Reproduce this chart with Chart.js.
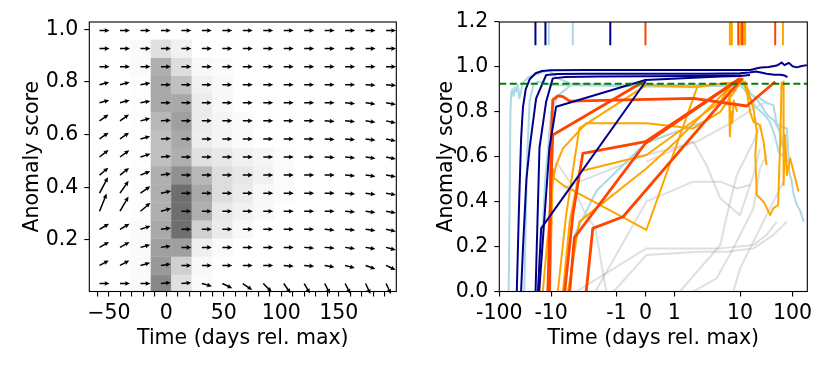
<!DOCTYPE html>
<html><head><meta charset="utf-8">
<script src="https://cdn.jsdelivr.net/npm/chart.js@4/dist/chart.umd.min.js"></script>
<style>
html,body{margin:0;padding:0;background:#fff;}
#wrap{position:relative;width:830px;height:369px;overflow:hidden;}
canvas{position:absolute;top:0;}
#c1{left:0}
#c2{left:415px}
</style></head><body>
<div id="wrap"><canvas id="c1" width="415" height="369"></canvas><canvas id="c2" width="415" height="369"></canvas></div>
<script>
// ---------------- LEFT PANEL DATA ----------------
const histXEdges = [-67,-49.2,-31.4,-13.6,4.2,22,39.8,57.6,75.4,93.2,111,128.8,146.6,164.4,182.2,200];
const histYEdges = [0,0.0687,0.1373,0.206,0.2747,0.3433,0.412,0.4807,0.5493,0.618,0.6867,0.7553,0.824,0.8927,0.9613,1.03];
// row 0 = bottom bin; values are colormap (Greys) inputs
const histDensity = [
 [0,0,0.04,0.55,0.21,0.04,0,0,0,0,0,0,0,0,0],
 [0,0,0.04,0.49,0.29,0.06,0,0,0,0,0,0,0,0,0],
 [0,0,0.04,0.47,0.47,0.13,0.04,0,0,0,0,0,0,0,0],
 [0,0,0.04,0.44,0.64,0.29,0.15,0.06,0,0,0,0,0,0,0],
 [0,0,0.02,0.42,0.64,0.42,0.17,0.12,0.06,0,0,0,0,0,0],
 [0,0,0.02,0.42,0.64,0.44,0.23,0.15,0.06,0.03,0,0,0,0,0],
 [0,0,0.02,0.42,0.52,0.39,0.23,0.17,0.12,0.03,0,0,0,0,0],
 [0,0,0.02,0.36,0.42,0.21,0.17,0.12,0.08,0.03,0,0,0,0,0],
 [0,0,0.02,0.36,0.44,0.14,0.08,0.04,0,0,0,0,0,0,0],
 [0,0,0.02,0.39,0.47,0.15,0.08,0.04,0,0,0,0,0,0,0],
 [0,0,0.02,0.44,0.44,0.15,0.06,0,0,0,0,0,0,0,0],
 [0,0,0.02,0.44,0.36,0.12,0.06,0,0,0,0,0,0,0,0],
 [0,0,0.04,0.42,0.23,0.06,0.03,0,0,0,0,0,0,0,0],
 [0,0,0.04,0.21,0.12,0,0,0,0,0,0,0,0,0,0],
 [0,0,0,0,0,0,0,0,0,0,0,0,0,0,0]
];
// quiver: direction (degrees, screen) and relative magnitude per bin, row 0 = bottom
const arrowAngle = [
 [0,0,0,5,5,-15,-25,-35,-45,-55,-60,-62,-63,-65,-65],
 [28,28,15,8,0,0,0,0,0,-5,-5,-10,-15,-20,-25],
 [30,30,15,8,0,0,0,0,0,0,-5,-5,-8,-10,-15],
 [30,30,18,8,0,0,0,0,0,0,0,-5,-5,-8,-12],
 [68,60,40,15,0,0,0,0,0,0,0,0,-5,-8,-10],
 [62,55,35,12,0,0,0,0,0,0,0,0,-5,-8,-10],
 [40,38,22,8,0,0,0,0,0,0,0,0,-5,-8,-10],
 [38,36,18,5,0,0,0,0,0,0,0,-3,-5,-8,-12],
 [35,35,15,3,0,0,0,0,0,0,0,-3,-5,-8,-12],
 [35,35,15,3,0,0,0,0,0,0,0,-3,-5,-8,-12],
 [15,15,10,0,0,0,0,0,0,0,0,0,-5,-8,-10],
 [15,15,10,0,0,0,0,0,0,0,0,0,0,-3,-5],
 [0,0,0,0,0,0,0,0,0,0,0,0,0,0,0],
 [0,0,0,0,0,0,0,0,0,0,0,0,0,0,0],
 [0,0,0,0,0,0,0,0,0,0,0,0,0,0,0]
];
const arrowMag = [
 [1,1,1,1,1,1.05,1.1,1.15,1.2,1.2,1.15,1.15,1.15,1.15,1.15],
 [1.05,1.05,1,1,1,1,1,1,1,1,1,1,1,1.05,1.05],
 [1.1,1.1,1,1,1,1,1,1,1,1,1,1,1,1,1],
 [1.1,1.1,1.05,1,1,1,1,1,1,1,1,1,1,1,1],
 [1.9,1.7,1.3,1.05,1,1,1,1,1,1,1,1,1,1,1],
 [1.8,1.5,1.2,1.05,1,1,1,1,1,1,1,1,1,1,1],
 [1.15,1.15,1.05,1,1,1,1,1,1,1,1,1,1,1,1],
 [1.15,1.15,1.05,1,1,1,1,1,1,1,1,1,1,1,1],
 [1.1,1.1,1,1,1,1,1,1,1,1,1,1,1,1,1],
 [1.1,1.1,1,1,1,1,1,1,1,1,1,1,1,1,1],
 [1,1,1,1,1,1,1,1,1,1,1,1,1,1,1],
 [1,1,1,1,1,1,1,1,1,1,1,1,1,1,1],
 [1,1,1,1,1,1,1,1,1,1,1,1,1,1,1],
 [1,1,1,1,1,1,1,1,1,1,1,1,1,1,1],
 [1,1,1,1,1,1,1,1,1,1,1,1,1,1,1]
];
const leftXTicks = [-60,-50,-40,-30,-20,-10,0,10,20,30,40,50,60,70,80,90,100,110,120,130,140,150,160,170,180,190];
const leftXLabelled = [-50,0,50,100,150];
const leftYTicks = [0.2,0.4,0.6,0.8,1.0];

// ---------------- RIGHT PANEL DATA ----------------
const rightXTickDays = [-100,-10,-1,0,1,10,100];
const rightXTickLabels = ['-100','-10','-1','0','1','10','100'];
const rightYTicks = [0,0.2,0.4,0.6,0.8,1.0,1.2];
const threshold = 0.925;

const navyDays = [
 [-46,-42,-38,-35,-31,-26,-20,-15,-10,-3,0,3,10,15.5,18,21,25,35,50,58,62,70,85,100,120,150,188],
 [-38,-35,-30,-26,-19.5,-12.5,-8,-3,0,3,10,15,20,25,32,45,60,70,80],
 [-20,-16.8,-12.5,-9.45,-6,-2,0,2,6,10.5],
 [-17,-10.8,-8.4,0,5,10,15.5],
 [-18,-15.6,0]
];
const navyScores = [
 [0,0.35,0.68,0.82,0.9,0.945,0.972,0.982,0.985,0.986,0.986,0.986,0.986,0.986,0.99,0.994,0.997,1.0,1.006,1.015,1.02,1.008,1.018,1.003,0.998,1.004,1.008],
 [0,0.19,0.5,0.64,0.86,0.964,0.968,0.97,0.97,0.97,0.972,0.975,0.98,0.975,0.97,0.965,0.965,0.962,0.955],
 [0,0.64,0.845,0.949,0.955,0.957,0.958,0.96,0.962,0.962],
 [0,0.64,0.823,0.942,0.957,0.96,0.964],
 [0,0.281,0.934]
];
const lightblueDays = [
 [-66,-63,-61,-59,-56,-53,-50,-47,-44,-41,-35,-27,-15,-11,-9.5,-8,-5,-1,1,5,8,10,12,14,15.5,18,24,32,43,50,60,78,84,88,95,105,121,140,163],
 [-5.2,-4.4,-2,0,3,6,8.9,12,15.5,20,28,36,45,55,70,80],
 [-33,-29,-26,-22,-18,-10,0,5,10,13,16,20,25,30,35,45,55,60,65],
 [-17,-13,-10,-8,-4.7,-1,2,5,9,12]
];
const lightblueScores = [
 [0,0.45,0.8,0.88,0.9,0.87,0.91,0.89,0.92,0.86,0.93,0.955,0.975,0.985,0.97,0.95,0.925,0.92,0.92,0.92,0.925,0.93,0.925,0.9,0.88,0.87,0.86,0.84,0.83,0.745,0.735,0.726,0.6,0.52,0.5,0.43,0.385,0.36,0.311],
 [0,0.25,0.45,0.66,0.76,0.86,0.934,0.9,0.86,0.82,0.79,0.76,0.7,0.62,0.6,0.58],
 [0,0.6,0.85,0.92,0.935,0.92,0.915,0.915,0.92,0.915,0.88,0.86,0.83,0.8,0.78,0.76,0.72,0.69,0.64],
 [0,0.5,0.8,0.87,0.925,0.915,0.91,0.92,0.935,0.93]
];
const orangeredDays = [
 [-10.8,-10.1,-9.45,-7.9,-6.6,-5.2,1.95,13.4,46.7],
 [-11.6,-10.1,-9.45,0.03],
 [-6.2,-4.65,-3.27,0,10],
 [-5.2,-4.4,0,9.4],
 [-2.9,-2.3,-0.77,10.9]
];
const orangeredScores = [
 [0,0.637,0.853,0.871,0.868,0.848,0.86,0.826,0.934],
 [0,0.49,0.697,0.942],
 [0,0.34,0.615,0.667,0.949],
 [0,0.24,0.66,0.942],
 [0,0.281,0.333,0.949]
];
const orangeDays = [
 [-14.5,-9.45,-8.4,-6.6,-2.9,0.03,1.95,5,11.6],
 [-10.5,-9.45,-9,-6.6,0.03,2.25,6.8,7,7.3,7.6,8,9],
 [-7.9,-5.9,-3.7,0.03,1.95,12.5,18,20.8,19.5,20.8,28,37.5,43,53,58,62],
 [-6.6,-5.2,-3.7,0.03,5,7.9],
 [-5.5,-3.7,0.03,1.05,8.9,10.8,13.4,15.5,18,24,28,32],
 [60,67,67.5,72,78,90,130]
];
const orangeScores = [
 [0,0.49,0.563,0.637,0.749,0.749,0.726,0.8,0.95],
 [0,0.548,0.504,0.474,0.274,0.912,0.93,0.69,0.8,0.75,0.85,0.8],
 [0,0.34,0.726,0.919,0.912,0.934,0.815,0.712,0.608,0.43,0.4,0.34,0.37,0.385,0.667,0.934],
 [0,0.311,0.534,0.608,0.845,0.934],
 [0,0.311,0.548,0.667,0.942,0.949,0.89,0.8,0.756,0.741,0.667,0.563],
 [0.9,0.934,0.474,0.697,0.519,0.593,0.445]
];
const greyDays = [
 [-4.1,0.03,5,18,32,50],
 [0.03,1.95,3.1,5,10,18,24],
 [1.22,5,6.3,8.9,13.4,18,24],
 [1.95,4.4,7.9,10,18,24,32],
 [-1.1,0.03,2.46,6.3,18,43,78],
 [-2.1,0.03,1.95,5,8.9,15.5],
 [-8.4,-5.2,-2.9,-2.1,-1.43],
 [-6.6,0.03,2.2,7.9,18,32],
 [7.9,10,15.5,24,43,67]
];
const greyScores = [
 [0,0.192,0.192,0.207,0.252,0.311],
 [0.578,0.667,0.563,0.415,0.34,0.519,0.637],
 [0,0.207,0.34,0.519,0.608,0.667,0.741],
 [0,0.059,0.192,0.252,0.37,0.548,0.608],
 [0,0.162,0.177,0.177,0.192,0.252,0.311],
 [0,0.4,0.489,0.489,0.459,0.474],
 [0.578,0.489,0.34,0.281,0],
 [0.459,0.608,0.667,0.756,0.815,0.845],
 [0,0.103,0.192,0.281,0.4,0.489]
];
// rug: days of first threshold crossing
const rugNavy = [-20.1,-12.9,-1.24];
const rugLightblue = [-11.1,-4.66];
const rugOrangered = [0,9.4,10.9,46.7];
const rugOrange = [7.0,7.5,10.2,11.5,12.5,65.5];

// ---------------- helpers ----------------
// custom symmetric-log-like axis transform (days -> axis units)
function symT(d){
  if (d <= -10) return 51.7*(2-Math.log10(-d));
  if (d <= -1) return 51.7+65*(1-Math.log10(-d));
  if (d < 0) return 145.7 + d*29;
  if (d < 1) return 145.7 + d*28.6;
  if (d < 10) return 174.3 + 65.7*Math.log10(d);
  return 240 + 52.3*(Math.log10(d)-1);
}
function greysColor(t){
  const stops=[255,240,217,189,150,115,82,37,0];
  const p=Math.min(Math.max(t,0),1)*8; const i=Math.min(Math.floor(p),7); const f=p-i;
  const g=Math.round(stops[i]+(stops[i+1]-stops[i])*f);
  return 'rgb('+g+','+g+','+g+')';
}
const FONT = {family:'"DejaVu Sans"', size:20.5};
Chart.defaults.font.family = '"DejaVu Sans"';
Chart.defaults.color = '#000';

const spinePlugin = {
  id:'spines',
  afterDatasetsDraw(chart){
    const {ctx, chartArea:a} = chart;
    ctx.save(); ctx.strokeStyle='#000'; ctx.lineWidth=1.1;
    ctx.strokeRect(a.left, a.top, a.right-a.left, a.bottom-a.top);
    ctx.restore();
  }
};

const heatPlugin = {
  id:'heat',
  beforeDatasetsDraw(chart){
    const {ctx, chartArea:a, scales:{x,y}} = chart;
    ctx.save(); ctx.beginPath(); ctx.rect(a.left,a.top,a.right-a.left,a.bottom-a.top); ctx.clip();
    for (let r=0;r<histDensity.length;r++){
      for (let c=0;c<histDensity[r].length;c++){
        const t=histDensity[r][c]; if(t<=0) continue;
        const x0=x.getPixelForValue(histXEdges[c]), x1=x.getPixelForValue(histXEdges[c+1]);
        const y0=y.getPixelForValue(histYEdges[r+1]), y1=y.getPixelForValue(histYEdges[r]);
        ctx.fillStyle=greysColor(t);
        ctx.fillRect(x0,y0,x1-x0+0.3,y1-y0+0.3);
      }
    }
    ctx.restore();
  },
  afterDatasetsDraw(chart){
    const {ctx, scales:{x,y}} = chart;
    const base=10, sw=1.5, hw=4.6, hl=5, hal=4.4;
    ctx.save(); ctx.fillStyle='#000';
    for (let r=0;r<arrowAngle.length;r++){
      for (let c=0;c<arrowAngle[r].length;c++){
        const xc=x.getPixelForValue((histXEdges[c]+histXEdges[c+1])/2);
        const yc=y.getPixelForValue((histYEdges[r]+histYEdges[r+1])/2);
        const L=base*arrowMag[r][c];
        ctx.save(); ctx.translate(xc,yc); ctx.rotate(-arrowAngle[r][c]*Math.PI/180);
        ctx.beginPath();
        ctx.moveTo(0,-sw/2); ctx.lineTo(L-hal,-sw/2); ctx.lineTo(L-hl,-hw/2); ctx.lineTo(L,0);
        ctx.lineTo(L-hl,hw/2); ctx.lineTo(L-hal,sw/2); ctx.lineTo(0,sw/2); ctx.closePath();
        ctx.fill(); ctx.restore();
      }
    }
    ctx.restore();
  }
};

const tickGrid = {drawOnChartArea:false, drawTicks:true, tickLength:5, color:'#000', lineWidth:1.1};

// ---------------- LEFT CHART ----------------
new Chart(document.getElementById('c1'), {
  type:'scatter',
  data:{datasets:[{data:[], pointRadius:0}]},
  options:{
    responsive:false, animation:false, devicePixelRatio:1, events:[],
    layout:{padding:{left:0,right:18.7,top:22,bottom:0}},
    plugins:{legend:{display:false}, tooltip:{enabled:false}},
    scales:{
      x:{type:'linear', min:-67, max:200,
        afterBuildTicks(s){ s.ticks = leftXTicks.map(v=>({value:v})); },
        afterFit(s){ s.height = 77.5; },
        ticks:{font:FONT, color:'#000', padding:5, maxRotation:0, autoSkip:false,
          callback:(v)=> leftXLabelled.includes(v) ? (v<0 ? '\u2212'+Math.abs(v) : String(v)) : ''},
        grid:tickGrid, border:{display:false},
        title:{display:true, text:'Time (days rel. max)', font:FONT, color:'#000', padding:{top:0,bottom:18}}
      },
      y:{type:'linear', min:0.004, max:1.028,
        afterBuildTicks(s){ s.ticks = leftYTicks.map(v=>({value:v})); },
        afterFit(s){ s.width = 89.3; },
        ticks:{font:FONT, color:'#000', padding:6, callback:(v)=>v.toFixed(1)},
        grid:tickGrid, border:{display:false},
        title:{display:true, text:'Anomaly score', font:FONT, color:'#000', padding:{top:20.5,bottom:0}}
      }
    }
  },
  plugins:[heatPlugin, spinePlugin]
});

// ---------------- RIGHT CHART ----------------
function mkLine(days, scores, color, width, order){
  return {type:'line', data:days.map((d,i)=>({x:symT(d), y:scores[i]})), borderColor:color,
    borderWidth:width, pointRadius:0, tension:0, fill:false, order:order, clip:0,
    borderJoinStyle:'round', borderCapStyle:'butt'};
}
function mkRug(days, color){
  const pts=[]; days.forEach(d=>{ pts.push({x:symT(d),y:1.097}); pts.push({x:symT(d),y:1.2}); pts.push({x:symT(d),y:null}); });
  return {type:'line', data:pts, borderColor:color, borderWidth:2, pointRadius:0, tension:0, fill:false, spanGaps:false, order:0, clip:0};
}
const ds = [];
greyDays.forEach((d,i)=>ds.push(mkLine(d, greyScores[i], 'rgba(128,128,128,0.25)', 2, 6)));
lightblueDays.forEach((d,i)=>ds.push(mkLine(d, lightblueScores[i], '#add8e6', 2, 5)));
orangeDays.forEach((d,i)=>ds.push(mkLine(d, orangeScores[i], '#ffa500', 2, 4)));
orangeredDays.forEach((d,i)=>ds.push(mkLine(d, orangeredScores[i], '#ff4500', 2.8, 3)));
navyDays.forEach((d,i)=>ds.push(mkLine(d, navyScores[i], '#00008b', 2, 2)));
ds.push({type:'line', data:[{x:symT(-100),y:threshold},{x:symT(191),y:threshold}], borderColor:'#008000', borderWidth:2,
  borderDash:[7,3.5], pointRadius:0, order:1, clip:0});
ds.push(mkRug(rugNavy,'#00008b'));
ds.push(mkRug(rugLightblue,'#add8e6'));
ds.push(mkRug(rugOrangered,'#ff4500'));
ds.push(mkRug(rugOrange,'#ffa500'));

new Chart(document.getElementById('c2'), {
  type:'line',
  data:{datasets:ds},
  options:{
    responsive:false, animation:false, devicePixelRatio:1, events:[],
    layout:{padding:{left:0,right:22.7,top:22,bottom:0}},
    plugins:{legend:{display:false}, tooltip:{enabled:false}},
    scales:{
      x:{type:'linear', min:0, max:symT(191),
        afterBuildTicks(s){ s.ticks = rightXTickDays.map(d=>({value:symT(d)})); },
        afterFit(s){ s.height = 77.5; },
        ticks:{font:FONT, color:'#000', padding:5, maxRotation:0, autoSkip:false,
          callback:(v,i)=> rightXTickLabels[i]},
        grid:tickGrid, border:{display:false},
        title:{display:true, text:'Time (days rel. max)', font:FONT, color:'#000', padding:{top:0,bottom:18}}
      },
      y:{type:'linear', min:0, max:1.2,
        afterBuildTicks(s){ s.ticks = rightYTicks.map(v=>({value:v})); },
        afterFit(s){ s.width = 84.3; },
        ticks:{font:FONT, color:'#000', padding:6, callback:(v)=>v.toFixed(1)},
        grid:tickGrid, border:{display:false},
        title:{display:true, text:'Anomaly score', font:FONT, color:'#000', padding:{top:19.5,bottom:0}}
      }
    }
  },
  plugins:[spinePlugin]
});
</script>
</body></html>
